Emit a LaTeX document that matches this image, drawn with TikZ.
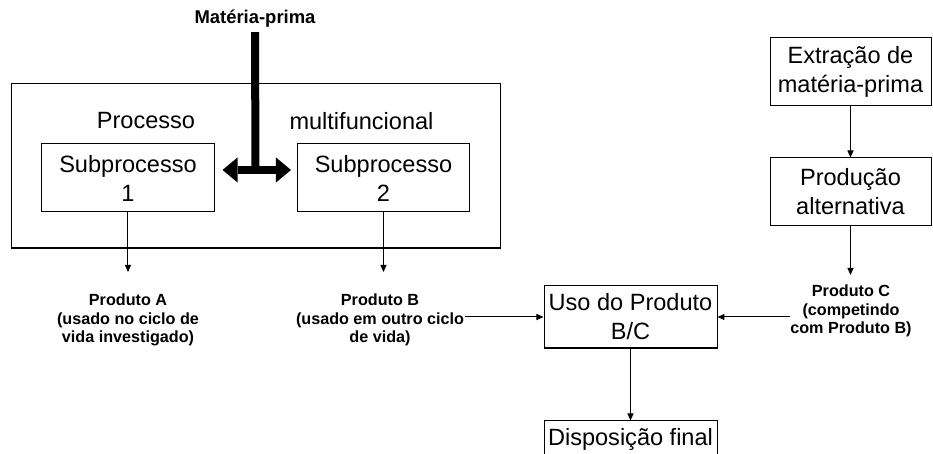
\documentclass[tikz,border=0pt]{standalone}
\usepackage{fontspec}
\setmainfont{Liberation Sans}
\usetikzlibrary{arrows.meta}

\begin{document}
\begin{tikzpicture}[scale=0.2]
	\tikzstyle{every node}+=[inner sep=0pt]
	\tikzstyle{caixa}=[draw=black, line width=0.57pt, align=center, font=\fontsize{13.4}{16.5}\selectfont]
	\tikzstyle{texto}=[align=center, font=\fontsize{13.4}{16.5}\selectfont]
	\tikzstyle{rotulo}=[align=center, font=\fontsize{9.2}{10.6}\selectfont\bfseries]
	\tikzstyle{seta}=[black, line width=0.57pt, -{Triangle[length=1.4mm,width=1.2mm]}]
	\tikzstyle{grossa}=[black, line width=0.16cm]
	\useasboundingbox (0,0) rectangle (93.3,-45.4);
	\clip (0,0) rectangle (93.3,-45.4);
	\draw (25.6,-16.6) node [caixa, minimum width=9.76cm, minimum height=3.28cm] (multi) {};
	\draw (14.6,-12.1) node [texto] (processo) {Processo};
	\draw (36.15,-12.1) node [texto] (multifunc) {multifuncional};
	\draw (12.8,-17.8) node [caixa, minimum width=3.44cm, minimum height=1.36cm] (sub1) {Subprocesso\\1};
	\draw (38.35,-17.8) node [caixa, minimum width=3.44cm, minimum height=1.36cm] (sub2) {Subprocesso\\2};
	\draw (25.5,-1.9) node [font=\fontsize{10.5}{12}\selectfont\bfseries] (materia) {Matéria-prima};
	\coordinate (mix) at (25.55,-17);
	\draw [grossa, shorten <=0.8mm] (materia.south) -- (mix);
	\draw [grossa, {Triangle[length=3mm,width=5mm,line width=0pt]}-{Triangle[length=3mm,width=5mm,line width=0pt]}, shorten <=1.6mm, shorten >=1.2mm] (sub1.east |- mix) -- (sub2.west |- mix);
	\draw (12.8,-32) node [rotulo] (prodA) {Produto A\\(usado no ciclo de\\vida investigado)};
	\coordinate (fimA) at (12.8,-27.2);
	\draw [seta] (sub1.south) -- (fimA);
	\draw (38,-32) node [rotulo] (prodB) {Produto B\\(usado em outro ciclo\\de vida)};
	\coordinate (fimB) at (38.35,-27.2);
	\draw [seta] (sub2.south) -- (fimB);
	\draw (63.05,-31.7) node [caixa, minimum width=3.46cm, minimum height=1.24cm] (uso) {Uso do Produto\\B/C};
	\draw [seta] ([xshift=1mm]prodB.east |- uso.west) -- (uso.west);
	\draw (85.05,-7.2) node [caixa, minimum width=3.22cm, minimum height=1.36cm] (extracao) {Extração de\\matéria-prima};
	\draw (85.05,-19.2) node [caixa, minimum width=3.22cm, minimum height=1.36cm] (producao) {Produção\\alternativa};
	\draw [seta] (extracao.south) -- (producao.north);
	\draw (85.1,-31.1) node [rotulo] (prodC) {Produto C\\(competindo\\com Produto B)};
	\coordinate (fimC) at (85.05,-27.5);
	\draw [seta] (producao.south) -- (fimC);
	\draw [seta] ([xshift=-0.4mm]prodC.west |- uso.east) -- (uso.east);
	\draw (63.05,-43.9) node [caixa, minimum width=3.46cm, minimum height=0.72cm] (disposicao) {Disposição final};
	\draw [seta] (uso.south) -- (disposicao.north);
\end{tikzpicture}
\end{document}
